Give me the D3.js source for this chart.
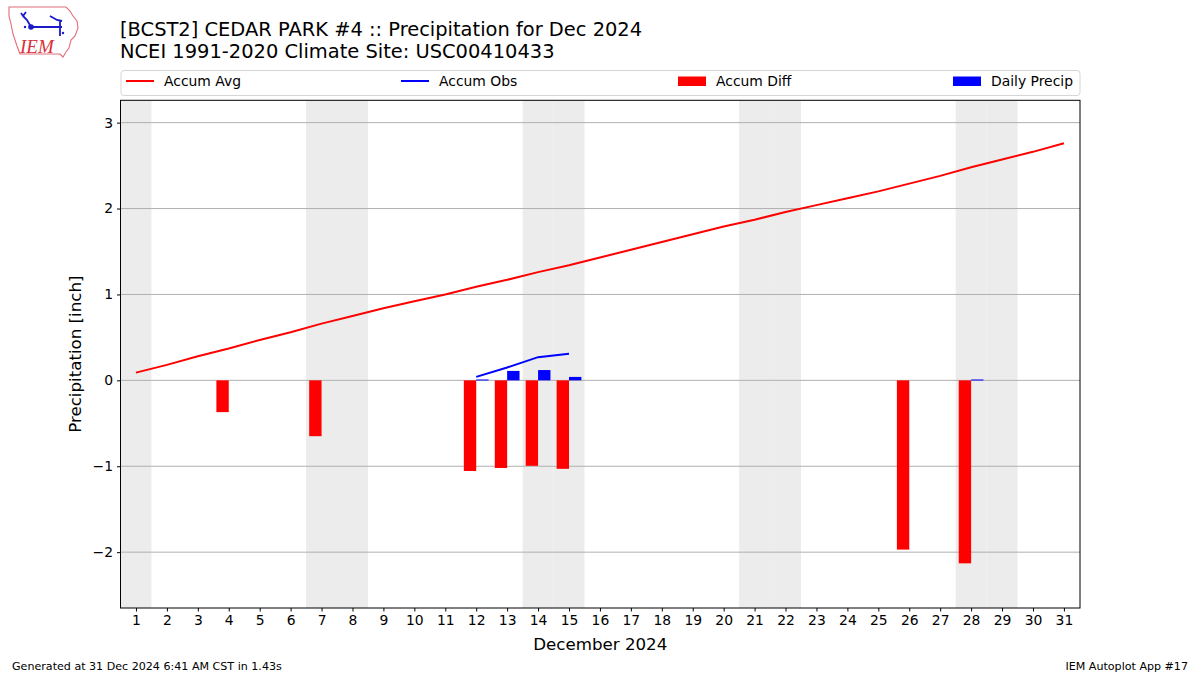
<!DOCTYPE html>
<html><head><meta charset="utf-8">
<script src="https://cdn.jsdelivr.net/npm/d3@7"></script>
<style>body{margin:0;background:#fff;}svg{display:block;font-family:"DejaVu Sans",sans-serif;}</style>
</head><body><svg id="c" width="1200" height="675"></svg>
<script>
const days = d3.range(1, 32);
const accumAvg = [0.09,0.18,0.28,0.37,0.47,0.56,0.66,0.75,0.84,0.92,1.00,1.09,1.17,1.26,1.34,1.43,1.52,1.61,1.70,1.79,1.87,1.96,2.04,2.12,2.20,2.29,2.38,2.48,2.57,2.66,2.76];
const obsDays = [12,13,14,15];
const accumObs = [0.04,0.15,0.27,0.31];
const diffDays = [4,7,12,13,14,15,26,28];
const accumDiff = [-0.37,-0.65,-1.055,-1.02,-0.995,-1.03,-1.97,-2.13];
const precipDays = [12,13,14,15,28];
const dailyPrecip = [0.01,0.11,0.12,0.04,0.01];
const weekendDays = [1,7,8,14,15,21,22,28,29];
const yTicks = [-2,-1,0,1,2,3];

const svg = d3.select("#c");
const L=120.5, R=1080, T=100.3, B=608;
const x = d3.scaleLinear().domain([0.5,31.52]).range([L,R]);
const y = d3.scaleLinear().domain([-2.65,3.26]).range([B,T]);

// weekend shading
svg.append("g").selectAll("rect").data(weekendDays).join("rect")
  .attr("x", d=>x(d-0.5)).attr("width", d=>x(d+0.5)-x(d-0.5))
  .attr("y", T).attr("height", B-T).attr("fill","#ececec");

// grid
svg.append("g").selectAll("line").data(yTicks).join("line")
  .attr("x1",L).attr("x2",R).attr("y1",d=>y(d)).attr("y2",d=>y(d))
  .attr("stroke","#b0b0b0").attr("stroke-width",1);

// diff bars
svg.append("g").selectAll("rect").data(diffDays.map((d,i)=>[d,accumDiff[i]])).join("rect")
  .attr("x", d=>x(d[0]-0.4)).attr("width", d=>x(d[0])-x(d[0]-0.4))
  .attr("y", d=>y(Math.max(0,d[1]))).attr("height", d=>Math.abs(y(d[1])-y(0)))
  .attr("fill","#ff0000");
// precip bars
svg.append("g").selectAll("rect").data(precipDays.map((d,i)=>[d,dailyPrecip[i]])).join("rect")
  .attr("x", d=>x(d[0])).attr("width", d=>x(d[0]+0.4)-x(d[0]))
  .attr("y", d=>y(d[1])).attr("height", d=>Math.max(1, y(0)-y(d[1])))
  .attr("fill","#0000ff");

// lines
const line = d3.line().x(d=>x(d[0])).y(d=>y(d[1]));
svg.append("path").datum(days.map((d,i)=>[d,accumAvg[i]])).attr("d",line)
  .attr("fill","none").attr("stroke","#ff0000").attr("stroke-width",2);
svg.append("path").datum(obsDays.map((d,i)=>[d,accumObs[i]])).attr("d",line)
  .attr("fill","none").attr("stroke","#0000ff").attr("stroke-width",2);

// frame
svg.append("rect").attr("x",L).attr("y",T).attr("width",R-L).attr("height",B-T)
  .attr("fill","none").attr("stroke","#000").attr("stroke-width",1);

// axes
const fmt = d=> d<0 ? "\u2212"+Math.abs(d) : String(d);
const ya = svg.append("g").attr("transform",`translate(${L},0)`)
  .call(d3.axisLeft(y).tickValues(yTicks).tickFormat(fmt).tickSize(3.5).tickPadding(4));
const xa = svg.append("g").attr("transform",`translate(0,${B})`)
  .call(d3.axisBottom(x).tickValues(days).tickFormat(d3.format("d")).tickSize(3.5).tickPadding(4));
[ya,xa].forEach(a=>{a.select(".domain").remove();
  a.selectAll("text").attr("font-size",13.9).attr("font-family","DejaVu Sans").attr("fill","#000");
  a.selectAll("line").attr("stroke","#000");});

svg.append("text").attr("transform",`translate(81,${(T+B)/2}) rotate(-90)`)
  .attr("text-anchor","middle").attr("font-size",16.67).text("Precipitation [inch]");
svg.append("text").attr("x",(L+R)/2).attr("y",650).attr("text-anchor","middle")
  .attr("font-size",16.67).text("December 2024");

// titles
svg.append("text").attr("x",120).attr("y",36).attr("font-size",19.45).text("[BCST2] CEDAR PARK #4 :: Precipitation for Dec 2024");
svg.append("text").attr("x",120).attr("y",58).attr("font-size",19.45).text("NCEI 1991-2020 Climate Site: USC00410433");

// legend
svg.append("rect").attr("x",121).attr("y",70.5).attr("width",959).attr("height",25).attr("rx",3)
  .attr("fill","#fff").attr("stroke","#d5d5d5");
const leg = [
  {label:"Accum Avg", x:126, type:"line", c:"#ff0000"},
  {label:"Accum Obs", x:401, type:"line", c:"#0000ff"},
  {label:"Accum Diff", x:678, type:"rect", c:"#ff0000"},
  {label:"Daily Precip", x:953, type:"rect", c:"#0000ff"}];
const lg = svg.append("g").selectAll("g").data(leg).join("g");
lg.filter(d=>d.type==="line").append("line").attr("x1",d=>d.x).attr("x2",d=>d.x+28)
  .attr("y1",81).attr("y2",81).attr("stroke",d=>d.c).attr("stroke-width",2);
lg.filter(d=>d.type==="rect").append("rect").attr("x",d=>d.x).attr("width",28)
  .attr("y",76.5).attr("height",9.5).attr("fill",d=>d.c);
lg.append("text").attr("x",d=>d.x+38).attr("y",86).attr("font-size",13.9).text(d=>d.label);

// footer
svg.append("text").attr("x",12).attr("y",670).attr("font-size",11.1).text("Generated at 31 Dec 2024 6:41 AM CST in 1.43s");
svg.append("text").attr("x",1188).attr("y",670).attr("text-anchor","end").attr("font-size",11.1).text("IEM Autoplot App #17");

// logo (approximation)
const logo = svg.append("g");
logo.append("path").attr("d","M9,7 L66,7 L70,11 L73,16 L77,21 L78,28 L75,36 L71,40 L69,48 L66,52 L63,57 L60,54 L20,54 L17,46 L13,34 L11,24 L9,16 Z")
  .attr("fill","#fff").attr("stroke","#e07078").attr("stroke-width",1.1);
logo.append("path").attr("d","M31,27 L62,27 M60,20 L60,36 M31,27 L27,20 L23,16 M26,12 L23,16 L21,13 M50,16 L57,20 L62,21")
  .attr("stroke","#1a1acc").attr("stroke-width",1.8).attr("fill","none");
logo.append("circle").attr("cx",31).attr("cy",27).attr("r",2.8).attr("fill","#1a1acc");
logo.append("circle").attr("cx",25).attr("cy",27).attr("r",1.2).attr("fill","#1a1acc");
logo.append("circle").attr("cx",63).attr("cy",33).attr("r",1.2).attr("fill","#1a1acc");
logo.append("text").attr("x",20).attr("y",53).attr("font-family","Liberation Serif").attr("font-style","italic")
  .attr("font-size",19).attr("fill","#d9303a").text("IEM");
</script></body></html>
